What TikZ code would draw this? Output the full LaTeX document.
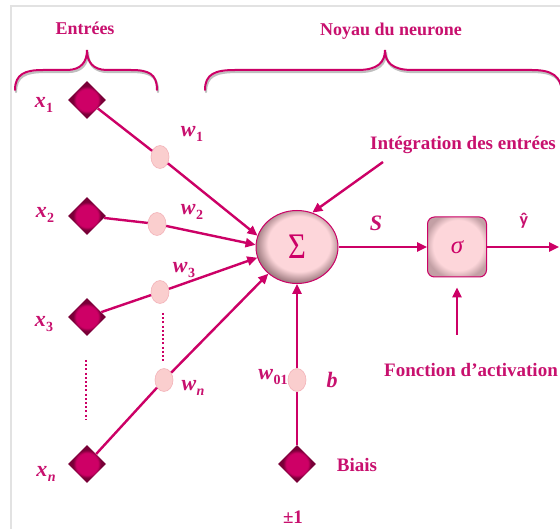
\documentclass[tikz,border=0pt]{standalone}
\usepackage{fontspec}
\setmainfont{Liberation Serif}
\newfontfamily\hatfont{Carlito}
\usetikzlibrary{shapes.geometric,arrows.meta}

\definecolor{mg}{RGB}{204,0,102}
\definecolor{mgtext}{RGB}{200,16,110}
\definecolor{dia}{RGB}{206,0,102}
\definecolor{diadark}{RGB}{120,0,55}
\definecolor{pinkfill}{RGB}{253,214,218}
\definecolor{pinkshade}{RGB}{160,125,130}
\definecolor{boxshadecol}{RGB}{195,160,165}
\definecolor{wfill}{RGB}{250,206,206}
\definecolor{wdraw}{RGB}{243,178,184}
\definecolor{framegray}{RGB}{226,226,226}

% fills: flat centre, darker rim (the shape's box spans -25bp..25bp)
\pgfdeclareradialshading{diamondshade}{\pgfpoint{0bp}{0bp}}%
  {color(0bp)=(dia);color(14.5bp)=(dia);color(18.5bp)=(diadark);color(50bp)=(diadark)}
\pgfdeclareradialshading{neuronshade}{\pgfpoint{2bp}{3.5bp}}%
  {color(0bp)=(pinkfill);color(19bp)=(pinkfill);color(26bp)=(pinkshade);color(50bp)=(pinkshade)}
\pgfdeclareradialshading{boxshade}{\pgfpoint{1.5bp}{2.5bp}}%
  {color(0bp)=(pinkfill);color(21bp)=(pinkfill);color(28bp)=(boxshadecol);color(50bp)=(boxshadecol)}

% variable with a bold subscript
\newcommand{\varsub}[2]{\textbf{\textit{#1}}\kern0.3pt\raisebox{-0.22em}{\fontsize{14}{14}\selectfont\bfseries #2}}

\tikzset{
  inputnode/.style={diamond, minimum size=38pt, inner sep=0pt, shading=diamondshade},
  weight/.style={ellipse, minimum width=18pt, minimum height=23pt, inner sep=0pt,
                 fill=wfill, draw=wdraw, line width=0.6pt},
  conn/.style={draw=mg, line width=2.4pt},
  arr/.style={conn, -{Triangle[length=10pt,width=9pt]}},
  dots/.style={draw=mg, line width=2.6pt, dash pattern=on 2pt off 2.2pt},
  brace/.style={draw=mg, line width=2pt, line cap=round},
  braceshadow/.style={draw=black, opacity=0.25, line width=2.2pt, line cap=round},
  title/.style={text=mgtext, inner sep=0pt, font=\fontsize{18}{20}\selectfont\bfseries},
  caption/.style={text=mgtext, inner sep=0pt, font=\fontsize{19}{21}\selectfont\bfseries},
  lab/.style={text=mgtext, inner sep=0pt, font=\fontsize{22}{24}\selectfont},
}

\begin{document}
\begin{tikzpicture}[x=1pt,y=-1pt]
\useasboundingbox (0,0) rectangle (560,529);
\fill[white] (0,0) rectangle (560,529);

% thin frame
\draw[framegray, line width=2pt] (11,529) -- (11,6) -- (560,6);

% braces
\begin{scope}[shift={(1,2)}]
\draw[braceshadow] (15,90) .. controls (15,74) and (25,70) .. (43,70) -- (67,70)
  .. controls (81,70) and (87,62) .. (87,50) .. controls (87,62) and (93,70) .. (107,70)
  -- (131,70) .. controls (149,70) and (157,74) .. (157,90);
\draw[braceshadow] (205,90) .. controls (205,74) and (215,70) .. (235,70) -- (358,70)
  .. controls (378,70) and (385,62) .. (385,50) .. controls (385,62) and (392,70) .. (412,70)
  -- (532,70) .. controls (552,70) and (561,76) .. (562,92);
\end{scope}
\draw[brace] (15,90) .. controls (15,74) and (25,70) .. (43,70) -- (67,70)
  .. controls (81,70) and (87,62) .. (87,50) .. controls (87,62) and (93,70) .. (107,70)
  -- (131,70) .. controls (149,70) and (157,74) .. (157,90);
\draw[brace] (205,90) .. controls (205,74) and (215,70) .. (235,70) -- (358,70)
  .. controls (378,70) and (385,62) .. (385,50) .. controls (385,62) and (392,70) .. (412,70)
  -- (532,70) .. controls (552,70) and (561,76) .. (562,92);

\node[title] (tin) at (85,28) {Entrées};
\node[title] (tcore) at (391,31) {Noyau du neurone};

% inputs and bias
\node[inputnode] (x1) at (87,100) {};
\node[inputnode] (x2) at (87,216) {};
\node[inputnode] (x3) at (87,317) {};
\node[inputnode] (xn) at (87,464) {};
\node[inputnode] (bias) at (297,464) {};

% weights
\node[weight] (w1) at (160,157) {};
\node[weight] (w2) at (157,224) {};
\node[weight] (w3) at (160,292) {};
\node[weight] (wn) at (164,380) {};
\node[weight] (w01) at (297,380) {};

% summation and activation
\node[ellipse, minimum width=82pt, minimum height=73pt, inner sep=0pt,
      shading=neuronshade, draw=mg, line width=1pt, text=mg,
      font=\fontsize{36}{36}\selectfont] (sig) at (297,247)
      {\scalebox{0.85}[1]{Σ}};
\node[rectangle, rounded corners=7pt, minimum width=59pt, minimum height=60pt,
      inner sep=0pt, shading=boxshade, draw=mg, line width=1pt, text=mg,
      font=\fontsize{25}{25}\selectfont\itshape] (act) at (457,247) {σ};

% connections
\draw[conn] (x1) -- (w1);
\draw[arr] (w1) -- (sig.164);
\draw[conn] (x2) -- (w2);
\draw[arr] (w2) -- (sig.177);
\draw[conn] (x3) -- (w3);
\draw[arr] (w3) -- (sig.195);
\draw[conn] (xn) -- (wn);
\draw[arr] (wn) -- (sig.223);
\draw[conn] (bias) -- (w01);
\draw[arr] (w01) -- (sig);
\draw[arr] (sig) -- (act);
\coordinate (yout) at (559,247);
\draw[arr] (act) -- (yout);
\coordinate (intfrom) at (383,162);
\draw[arr] (intfrom) -- (sig.66);
\coordinate (actfrom) at (457,335);
\draw[arr, shorten >=10pt] (actfrom) -- (act.south);

% elided inputs
\draw[dots] (163,313) -- (163,362);
\draw[dots] (86,360) -- (86,420);

% labels
\node[lab] (lx1) at (44,105) {\varsub{x}{1}};
\node[lab] (lx2) at (45,215) {\varsub{x}{2}};
\node[lab] (lx3) at (44,324) {\varsub{x}{3}};
\node[lab] (lxn) at (46,474) {\varsub{x}{\itshape n}};
\node[lab] (lw1) at (192,134) {\varsub{w}{1}};
\node[lab] (lw2) at (192,212) {\varsub{w}{2}};
\node[lab] (lw3) at (184,270) {\varsub{w}{3}};
\node[lab] (lwn) at (193,388) {\varsub{w}{\itshape n}};
\node[lab] (lw01) at (273,377) {\varsub{w}{01}};
\node[lab] (lb) at (332,380) {\textbf{\textit{b}}};
\node[lab] (ls) at (376,223) {\textbf{\textit{S}}};
\node[lab, font=\fontsize{18}{20}\selectfont\hatfont\bfseries] (ly) at (524,221) {ŷ};

\node[caption] (tint) at (463,145) {Intégration des entrées};
\node[caption] (tact) at (471,370) {Fonction d’activation};
\node[caption] (tbias) at (357,465) {Biais};
\node[caption] (tone) at (293,517) {±1};
\end{tikzpicture}
\end{document}
